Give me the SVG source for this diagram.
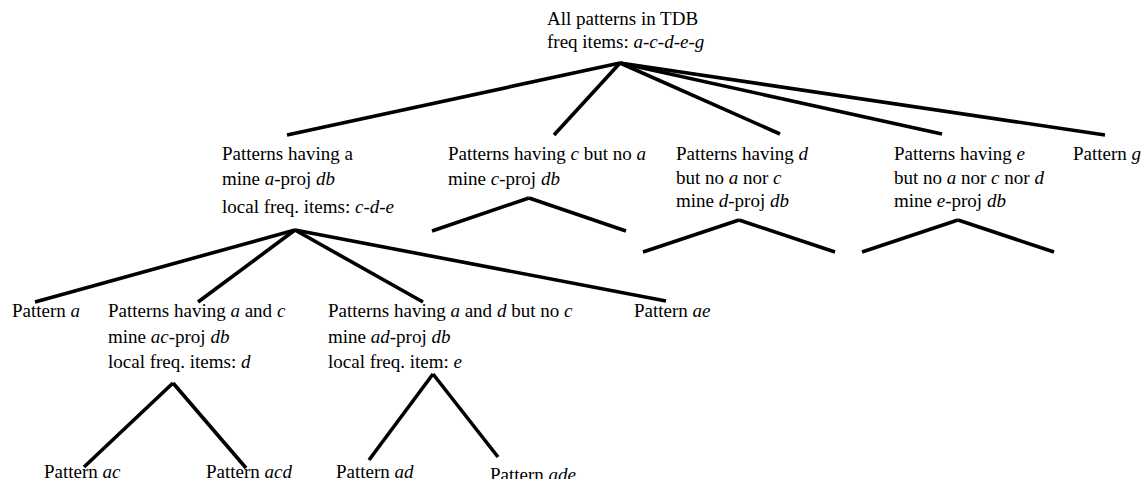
<svg xmlns="http://www.w3.org/2000/svg" width="1143" height="479" viewBox="0 0 1143 479">
<style>
text{font-family:"Liberation Serif","Times New Roman",serif;font-size:19px;fill:#000}
.i{font-style:italic}
#connectors line{stroke:#000;stroke-width:3.6;stroke-linecap:butt}
</style>
<rect width="1143" height="479" fill="#fff"/>
<g id="connectors">
<line x1="620" y1="63" x2="287" y2="135"/>
<line x1="620" y1="63" x2="554" y2="135"/>
<line x1="620" y1="63" x2="780" y2="134"/>
<line x1="620" y1="63" x2="942" y2="134"/>
<line x1="620" y1="63" x2="1105" y2="135"/>
<line x1="295" y1="230" x2="35" y2="302"/>
<line x1="295" y1="230" x2="198" y2="302"/>
<line x1="295" y1="230" x2="423" y2="302"/>
<line x1="295" y1="230" x2="666" y2="301"/>
<line x1="529" y1="198" x2="432" y2="231"/>
<line x1="529" y1="198" x2="626" y2="231"/>
<line x1="739" y1="220" x2="643" y2="252"/>
<line x1="739" y1="220" x2="835" y2="252"/>
<line x1="958" y1="220" x2="862" y2="252"/>
<line x1="958" y1="220" x2="1054" y2="252"/>
<line x1="173" y1="383" x2="84" y2="467"/>
<line x1="173" y1="383" x2="246" y2="468"/>
<line x1="433" y1="374" x2="369" y2="460"/>
<line x1="433" y1="374" x2="498" y2="457"/>
</g>
<g id="root">
<text x="547" y="25">All patterns in TDB</text>
<text x="547" y="48">freq items: <tspan class="i">a</tspan>-<tspan class="i">c</tspan>-<tspan class="i">d</tspan>-<tspan class="i">e</tspan>-<tspan class="i">g</tspan></text>
</g>
<g id="node-a">
<text x="222" y="160">Patterns having a</text>
<text x="222" y="185">mine <tspan class="i">a</tspan>-proj <tspan class="i">db</tspan></text>
<text x="222" y="213">local freq. items: <tspan class="i">c</tspan>-<tspan class="i">d</tspan>-<tspan class="i">e</tspan></text>
</g>
<g id="node-c">
<text x="448" y="160">Patterns having <tspan class="i">c</tspan> but no <tspan class="i">a</tspan></text>
<text x="448" y="185">mine <tspan class="i">c</tspan>-proj <tspan class="i">db</tspan></text>
</g>
<g id="node-d">
<text x="676" y="160">Patterns having <tspan class="i">d</tspan></text>
<text x="676" y="184">but no <tspan class="i">a</tspan> nor <tspan class="i">c</tspan></text>
<text x="676" y="207">mine <tspan class="i">d</tspan>-proj <tspan class="i">db</tspan></text>
</g>
<g id="node-e">
<text x="894" y="160">Patterns having <tspan class="i">e</tspan></text>
<text x="894" y="184">but no <tspan class="i">a</tspan> nor <tspan class="i">c</tspan> nor <tspan class="i">d</tspan></text>
<text x="894" y="207">mine <tspan class="i">e</tspan>-proj <tspan class="i">db</tspan></text>
</g>
<g id="node-g">
<text x="1073" y="160">Pattern <tspan class="i">g</tspan></text>
</g>
<g id="node-pa">
<text x="12" y="317">Pattern <tspan class="i">a</tspan></text>
</g>
<g id="node-ac">
<text x="108" y="317">Patterns having <tspan class="i">a</tspan> and <tspan class="i">c</tspan></text>
<text x="108" y="343">mine <tspan class="i">ac</tspan>-proj <tspan class="i">db</tspan></text>
<text x="108" y="368">local freq. items: <tspan class="i">d</tspan></text>
</g>
<g id="node-ad">
<text x="328" y="317">Patterns having <tspan class="i">a</tspan> and <tspan class="i">d</tspan> but no <tspan class="i">c</tspan></text>
<text x="328" y="343">mine <tspan class="i">ad</tspan>-proj <tspan class="i">db</tspan></text>
<text x="328" y="368">local freq. item: <tspan class="i">e</tspan></text>
</g>
<g id="node-ae">
<text x="634" y="317">Pattern <tspan class="i">ae</tspan></text>
</g>
<g id="node-pac">
<text x="44" y="478">Pattern <tspan class="i">ac</tspan></text>
</g>
<g id="node-pacd">
<text x="206" y="478">Pattern <tspan class="i">acd</tspan></text>
</g>
<g id="node-pad">
<text x="336" y="478">Pattern <tspan class="i">ad</tspan></text>
</g>
<g id="node-pade">
<text x="490" y="481">Pattern <tspan class="i">ade</tspan></text>
</g>
</svg>
